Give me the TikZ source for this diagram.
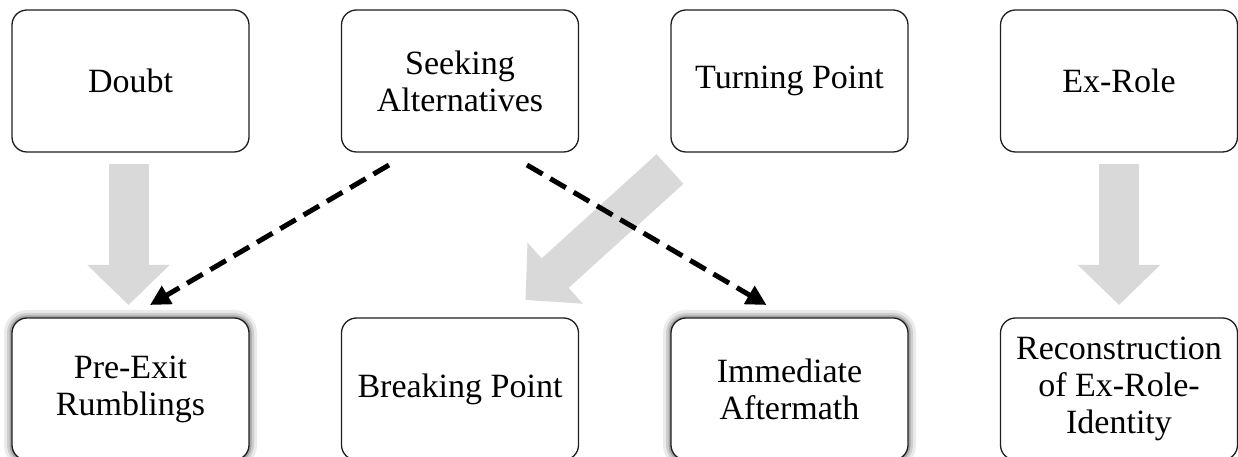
\documentclass[tikz,border=0pt]{standalone}
\usepackage{fontspec}
\setmainfont{Liberation Serif}
\usepackage{xcolor}
\usetikzlibrary{positioning, arrows.meta, calc}
\definecolor{blockgrey}{RGB}{217,217,217}
\definecolor{boxline}{RGB}{30,30,30}

\begin{document}
\begin{tikzpicture}[x=1pt, y=1pt, every node/.style={inner sep=2pt, outer sep=0pt},
  stage/.style={draw=boxline, line width=1.3pt, fill=white, rounded corners=15pt,
    minimum width=237pt, minimum height=142pt, align=center,
    font=\fontsize{34}{37}\selectfont},
  glow/.style={preaction={draw=black, opacity=0.08, line width=16pt},
    preaction={draw=black, opacity=0.12, line width=10pt},
    preaction={draw=black, opacity=0.2, line width=5pt}},
  block/.style={-{Triangle[length=40pt, width=80pt]}, line width=40pt, blockgrey},
  link/.style={-{Triangle[length=20pt, width=20pt]}, line width=5pt,
    dash pattern=on 18pt off 9pt}]
\useasboundingbox (0,0) rectangle (1238,457);
\node[stage] (doubt) at (130.5,376) {Doubt};
\node[stage, right=92.5pt of doubt] (seek) {Seeking\\Alternatives};
\node[stage, right=92.5pt of seek] (turn) {Turning Point};
\node[stage, right=92.5pt of turn] (exrole) {Ex-Role};
\node[stage, glow, below=166pt of doubt] (pre) {Pre-Exit\\Rumblings};
\node[stage, below=166pt of seek] (break) {Breaking Point};
\node[stage, glow, below=166pt of turn] (after) {Immediate\\Aftermath};
\node[stage, below=166pt of exrole] (recon) {Reconstruction\\of Ex-Role-\\Identity};
\draw[block] ($(doubt.south)+(-2,-12)$) -- ($(pre.north)+(-2,13)$);
\draw[block] ($(exrole.south)+(0,-12)$) -- ($(recon.north)+(0,13)$);
\draw[block] ($(turn.south west)+(-1,-17)$) -- ($(break.north east)+(-53,18)$);
\draw[link] ($(seek.south)+(-71,-13)$) -- ($(pre.north)+(19.5,13)$);
\draw[link] ($(seek.south)+(67,-13)$) -- ($(after.north)+(-23,13)$);
\end{tikzpicture}
\end{document}
